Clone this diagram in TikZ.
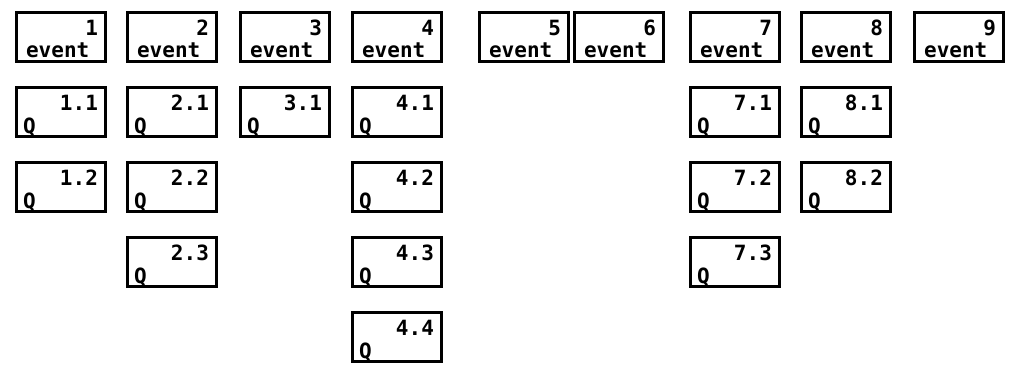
\documentclass[tikz,border=0pt]{standalone}
\usepackage{fontspec}
\setmonofont{DejaVu Sans Mono}
\usepackage{tikz}
\usetikzlibrary{positioning}
\tikzstyle{box} = [rectangle, draw=black, line width=3.2pt, minimum width=89pt, minimum height=49pt, inner sep=0pt]
\tikzstyle{boxtext} = [inner sep=0pt, font=\ttfamily\bfseries\fontsize{21}{24}\selectfont]
\tikzset{
  num/.style={boxtext, anchor=north east, xshift=-9pt, yshift=-9pt},
  word/.style={boxtext, anchor=base west, xshift=11pt, yshift=6pt},
  qword/.style={boxtext, anchor=base west, xshift=8pt, yshift=5pt},
  evbox/.style={box, label={[num]north east:#1}, label={[word]south west:event}}, % top row
  qbox/.style={box, label={[num]north east:#1}, label={[qword]south west:Q}}
}

\begin{document}
\begin{tikzpicture}[x=1pt, y=1pt, node distance=75pt]
    \useasboundingbox (0,0) rectangle (1015,-369);
    % events
    \node[evbox=1] (e1) at (61,-37) {};
    \node[evbox=2] (e2) at (172,-37) {};
    \node[evbox=3] (e3) at (285,-37) {};
    \node[evbox=4] (e4) at (397,-37) {};
    \node[evbox=5] (e5) at (524,-37) {};
    \node[evbox=6] (e6) at (619,-37) {};
    \node[evbox=7] (e7) at (735,-37) {};
    \node[evbox=8] (e8) at (846,-37) {};
    \node[evbox=9] (e9) at (959,-37) {};
    % queues under each event
    \node[qbox=1.1, below of=e1] (q11) {};
    \node[qbox=1.2, below of=q11] (q12) {};
    \node[qbox=2.1, below of=e2] (q21) {};
    \node[qbox=2.2, below of=q21] (q22) {};
    \node[qbox=2.3, below of=q22] (q23) {};
    \node[qbox=3.1, below of=e3] (q31) {};
    \node[qbox=4.1, below of=e4] (q41) {};
    \node[qbox=4.2, below of=q41] (q42) {};
    \node[qbox=4.3, below of=q42] (q43) {};
    \node[qbox=4.4, below of=q43] (q44) {};
    \node[qbox=7.1, below of=e7] (q71) {};
    \node[qbox=7.2, below of=q71] (q72) {};
    \node[qbox=7.3, below of=q72] (q73) {};
    \node[qbox=8.1, below of=e8] (q81) {};
    \node[qbox=8.2, below of=q81] (q82) {};
\end{tikzpicture}
\end{document}
